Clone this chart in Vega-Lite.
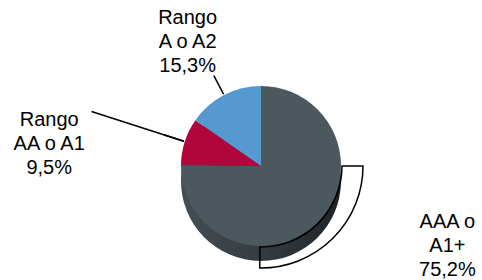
{
  "$schema": "https://vega.github.io/schema/vega-lite/v6.json",
  "width": 442,
  "height": 228,
  "autosize": "none",
  "padding": {"left": 40, "top": 52, "right": 0, "bottom": 0},
  "background": "white",
  "config": {"view": {"stroke": null}},
  "data": {
    "values": [
      {"categoria": "AAA o A1+", "valor": 75.2, "orden": 1, "etiqueta": "AAA o\nA1+\n75,2%"},
      {"categoria": "Rango AA o A1", "valor": 9.5, "orden": 2, "etiqueta": "Rango\nAA o A1\n9,5%"},
      {"categoria": "Rango A o A2", "valor": 15.3, "orden": 3, "etiqueta": "Rango\nA o A2\n15,3%"}
    ]
  },
  "encoding": {
    "theta": {"field": "valor", "type": "quantitative", "stack": true},
    "order": {"field": "orden", "type": "quantitative"}
  },
  "layer": [
    {
      "mark": {
        "type": "arc",
        "outerRadius": 80,
        "yOffset": 15,
        "fill": {
          "gradient": "linear",
          "x1": 0, "y1": 0, "x2": 1, "y2": 0,
          "stops": [
            {"offset": 0, "color": "#454e54"},
            {"offset": 0.5, "color": "#353c41"},
            {"offset": 1, "color": "#1e2326"}
          ]
        }
      }
    },
    {
      "mark": {"type": "arc", "outerRadius": 80},
      "encoding": {
        "color": {
          "field": "categoria",
          "type": "nominal",
          "scale": {
            "domain": ["AAA o A1+", "Rango AA o A1", "Rango A o A2"],
            "range": ["#4d585e", "#b0063c", "#5599d0"]
          },
          "legend": null
        }
      }
    },
    {
      "mark": {
        "type": "text",
        "radius": 150,
        "font": "Liberation Sans",
        "fontSize": 20,
        "lineHeight": 24,
        "lineBreak": "\n",
        "align": "center",
        "baseline": "middle",
        "color": "black",
        "dx": {"expr": "datum.orden == 1 ? 81 : datum.orden == 2 ? -69 : -4"},
        "dy": {"expr": "datum.orden == 1 ? -51 : datum.orden == 2 ? 0 : -15"}
      },
      "encoding": {
        "text": {"field": "etiqueta", "type": "nominal"}
      }
    },
    {
      "mark": {
        "type": "arc",
        "padAngle": 3,
        "innerRadius": 81,
        "outerRadius": 102,
        "fill": "transparent",
        "stroke": "black",
        "strokeWidth": 1.5
      }
    },
    {
      "mark": {
        "type": "arc",
        "padAngle": 3,
        "innerRadius": 81,
        "outerRadius": 178,
        "fill": "transparent",
        "stroke": "black",
        "strokeWidth": 1.5
      },
      "encoding": {
        "strokeOpacity": {"condition": {"test": "datum.orden == 2", "value": 1}, "value": 0}
      }
    }
  ]
}
